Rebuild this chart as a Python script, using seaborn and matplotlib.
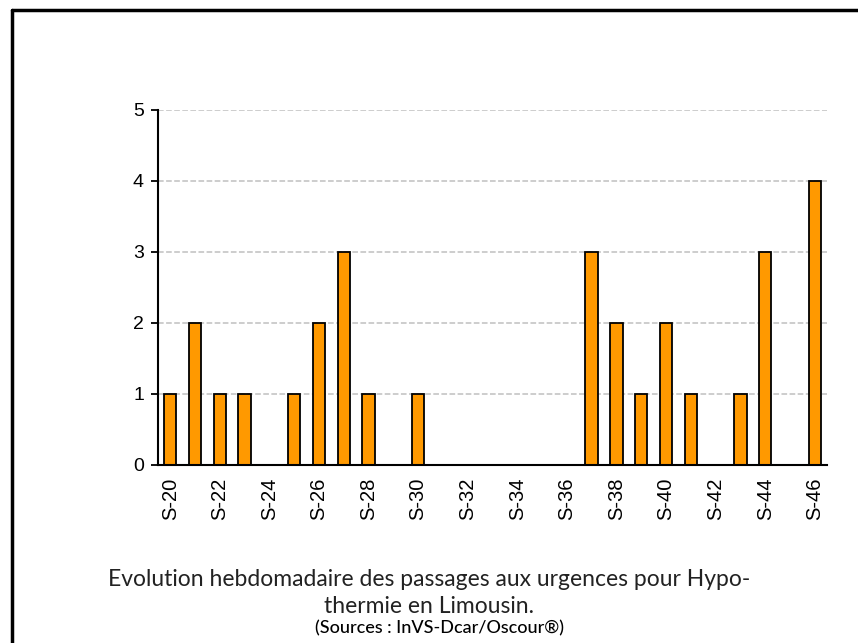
import numpy as np
import pandas as pd
import matplotlib
matplotlib.use("Agg")
import matplotlib.pyplot as plt
from matplotlib.lines import Line2D
import seaborn as sns

# --- données ---
semaines = ["S-%d" % s for s in range(20, 47)]
passages = [1, 2, 1, 1, 0, 1, 2, 3, 1, 0, 1, 0, 0, 0, 0, 0, 0,
            3, 2, 1, 2, 1, 0, 1, 3, 0, 4]
yticks = [0, 1, 2, 3, 4, 5]

titre1 = "Evolution hebdomadaire des passages aux urgences pour Hypo-"
titre2 = "thermie en Limousin."
source = "(Sources : InVS-Dcar/Oscour®)"

df = pd.DataFrame({"semaine": semaines, "n": passages})

sns.set_style("white")
plt.rcParams["font.family"] = ["Liberation Sans", "DejaVu Sans"]

fig = plt.figure(figsize=(8.58, 6.43), dpi=100)
ax = fig.add_axes([0.184, 0.277, 0.78, 0.552])

sns.barplot(data=df, x="semaine", y="n", color="#FF9900", width=0.5,
            edgecolor="black", linewidth=1.3, saturation=1, ax=ax)

ax.set_xlim(-0.5, len(semaines) - 0.5)
ax.set_ylim(0, 5)
ax.set_yticks(yticks)
ax.set_yticklabels([str(v) for v in yticks], fontsize=14, color="black")

# étiquettes une semaine sur deux, traits aux limites des classes
pos = np.arange(len(semaines))
ax.set_xticks(pos[::2])
ax.set_xticklabels(semaines[::2], rotation=90, fontsize=14.5, color="black")
ax.set_xticks(np.arange(len(semaines) + 1) - 0.5, minor=True)
ax.tick_params(axis="x", which="major", length=0, pad=9)
ax.tick_params(axis="x", which="minor", length=5, width=1.3, color="black", direction="out")
ax.tick_params(axis="y", length=5, width=1.3, color="black", direction="out", left=True, pad=5)

ax.yaxis.grid(True, linestyle="--", color="#c0c0c0", linewidth=1.1)
ax.set_axisbelow(True)
ax.set_xlabel("")
ax.set_ylabel("")
for side in ["top", "right"]:
    ax.spines[side].set_visible(False)
for side in ["left", "bottom"]:
    ax.spines[side].set_color("black")
    ax.spines[side].set_linewidth(1.5)

# cadre (seuls les bords haut et gauche sont visibles)
fig.add_artist(Line2D([0.0135, 0.0135], [0, 0.984], color="black", linewidth=2.5,
                      transform=fig.transFigure))
fig.add_artist(Line2D([0.0135, 1.0], [0.984, 0.984], color="black", linewidth=2.5,
                      transform=fig.transFigure))

police = ["Lato", "DejaVu Sans"]
fig.text(0.50, 0.098, titre1, ha="center", va="center", fontsize=16.5,
         family=police, color="#222222")
fig.text(0.50, 0.056, titre2, ha="center", va="center", fontsize=16.5,
         family=police, color="#222222")
fig.text(0.512, 0.023, source, ha="center", va="center", fontsize=13,
         family=police, color="black", fontweight="medium")

fig.savefig("out.png", dpi=100)
